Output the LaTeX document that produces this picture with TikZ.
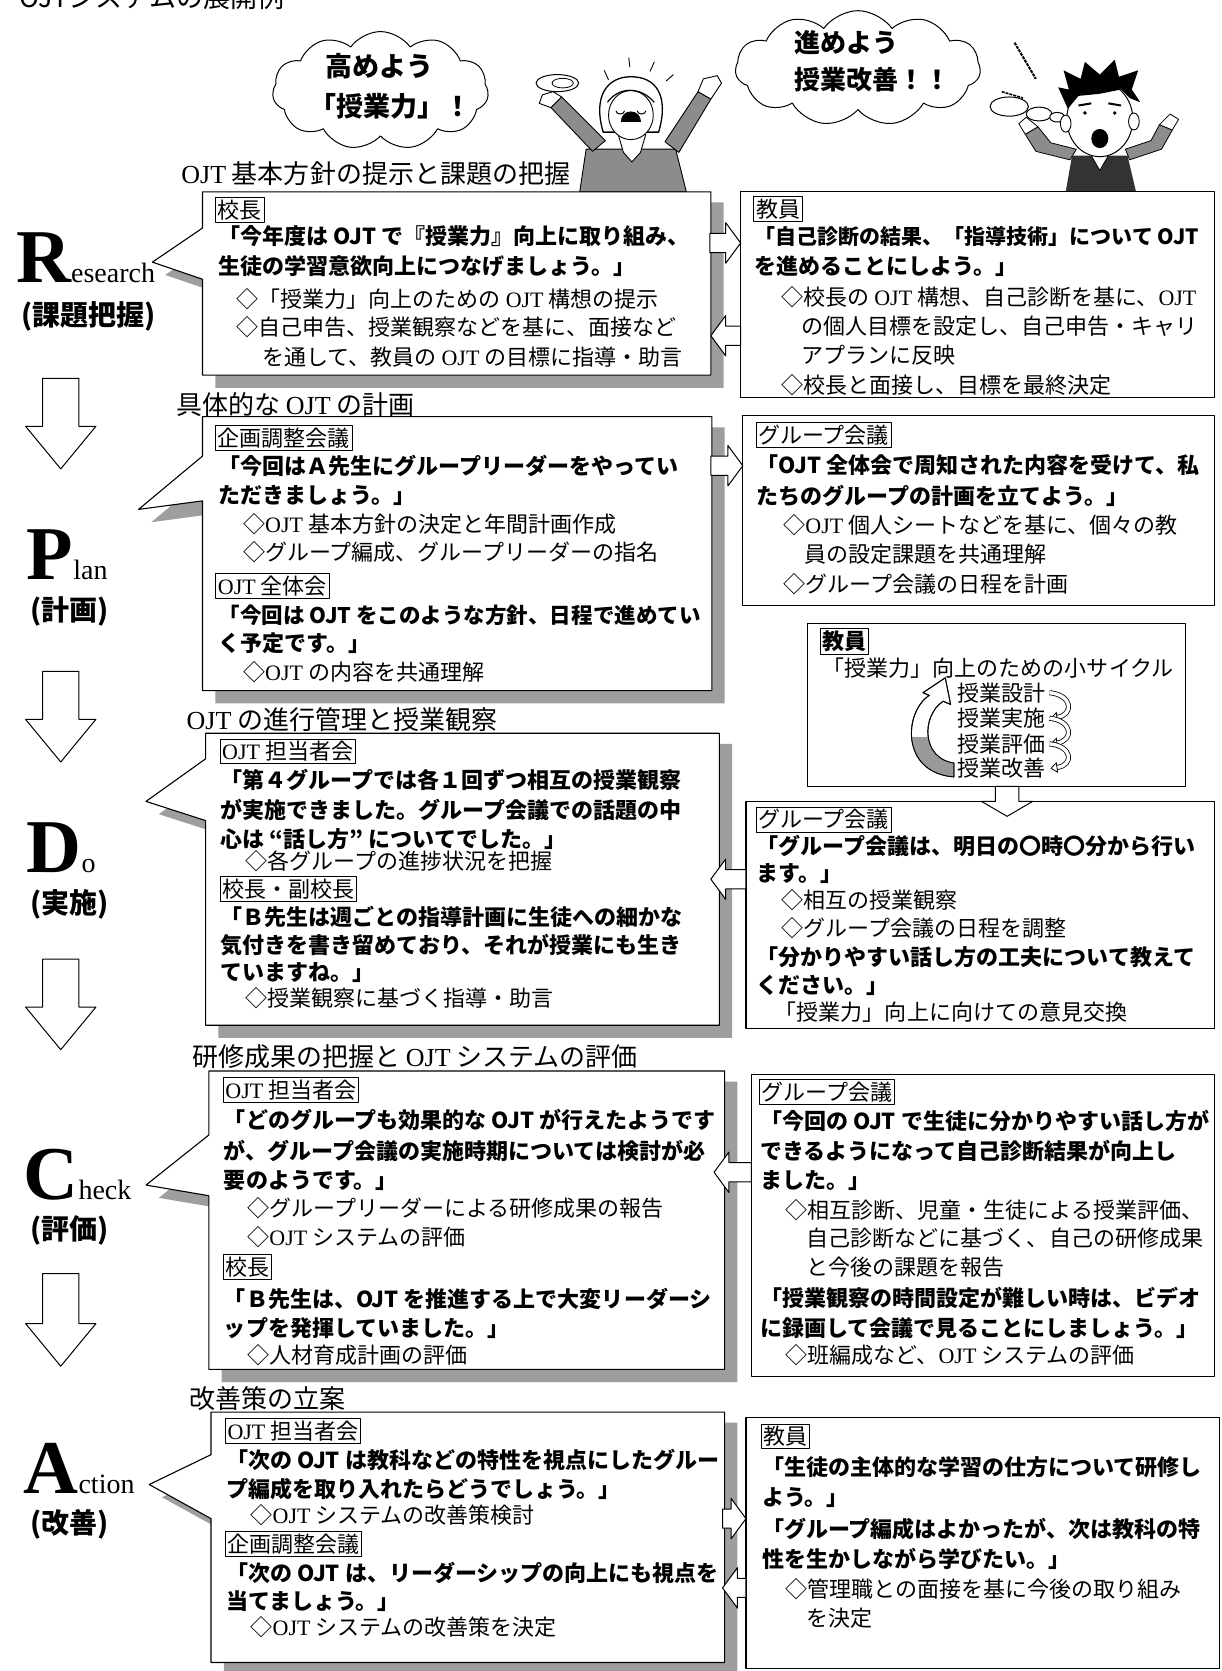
\documentclass[tikz,border=0pt]{standalone}
\usepackage{fontspec}
\setmainfont{Noto Sans CJK JP}
\newfontfamily\latinserif{Liberation Serif}
\usetikzlibrary{shapes.symbols,arrows.meta}
\newcommand\OJTr{{\latinserif OJT}}
% callout box with a shadow and a pointer on its left side
% #1 x1, #2 y1, #3 x2, #4 y2, #5 top of opening, #6 bottom of opening, #7 tip x, #8 tip y
\newcommand\callbox[8]{%
  \fill[boxshadow] ({#1+12},{#2+10}) -- ({#3+12},{#2+10}) -- ({#3+12},{#4+12}) -- ({#1+12},{#4+12}) -- ({#1+12},{#6+12}) -- ({#7+12},{#8+12}) -- ({#1+12},{#5+12}) -- cycle;
  \draw[boxline, fill=white] (#1,#2) -- (#3,#2) -- (#3,#4) -- (#1,#4) -- (#1,#6) -- (#7,#8) -- (#1,#5) -- cycle;}
% horizontal block arrow: tail x, tip x, centre y, half shaft, half head, signed head length
\newcommand\harr[6]{\draw[blk] (#1,{#3-#4}) -- ({#2-(#6)},{#3-#4}) -- ({#2-(#6)},{#3-#5}) -- (#2,#3) -- ({#2-(#6)},{#3+#5}) -- ({#2-(#6)},{#3+#4}) -- (#1,{#3+#4}) -- cycle;}
% vertical block arrow: centre x, tail y, tip y, half shaft, half head, head length
\newcommand\varr[6]{\draw[blk] ({#1-#4},#2) -- ({#1-#4},{#3-(#6)}) -- ({#1-#5},{#3-(#6)}) -- (#1,#3) -- ({#1+#5},{#3-(#6)}) -- ({#1+#4},{#3-(#6)}) -- ({#1+#4},#2) -- cycle;}
% big stage letter followed by the rest of the word
\newcommand\stageword[2]{{\latinserif\fontsize{76}{76}\selectfont\bfseries #1}{\latinserif\fontsize{28}{28}\selectfont #2}}
\tikzset{
  boxline/.style={draw=black, line width=1.1pt},
  boxshadow/.style={fill=black!38},
  blk/.style={draw=black, line width=1pt, fill=white},
  bt/.style={anchor=west, inner sep=0pt, font=\fontsize{22}{24}\selectfont\bfseries},
  rt/.style={anchor=west, inner sep=0pt, font=\fontsize{22}{24}\selectfont},
  lbl/.style={anchor=west, draw, line width=0.9pt, inner sep=2.2pt, font=\fontsize{22}{24}\selectfont},
  hd/.style={anchor=west, inner sep=0pt, font=\fontsize{26}{28}\selectfont},
  ct/.style={anchor=west, inner sep=0pt, font=\fontsize{27}{29}\selectfont\bfseries},
  bigl/.style={anchor=base west, inner sep=0pt, text depth=0pt},
  subl/.style={inner sep=0pt, font=\fontsize{28}{30}\selectfont\bfseries},
  thought/.style={cloud, draw, line width=1pt, cloud puffs=11, cloud puff arc=110, cloud ignores aspect, inner sep=0pt},
  wavy/.style={draw=black, line width=0.8pt, double=white, double distance=3.4pt, -{Triangle[open, length=7pt, width=11pt]}},
}
\begin{document}
\begin{tikzpicture}[x=1.0654pt, y=-1.0654pt, line join=round]
\useasboundingbox (0,0) rectangle (1146,1568);
\fill[white] (0,0) rectangle (1146,1568);

% title line at the top edge
\node[anchor=base west, inner sep=0pt, font=\fontsize{27}{27}\selectfont] (ttl) at (18,7) {OJTシステムの展開例};

% ---------------- thought clouds ----------------
\node[thought, minimum width=216pt, minimum height=118pt] (cloudA) at (357,85) {};
\node[ct] (ca1) at (305,62) {高めよう};
\node[ct] (ca2) at (290,100) {「授業力」！};
\draw[line width=1pt, fill=white] (523,78) ellipse (20 and 8);
\draw[line width=0.8pt] (528,78) ellipse (10 and 4.5);

\node[thought, minimum width=245pt, minimum height=115pt] (cloudB) at (805,64) {};
\node[ct, font=\fontsize{26}{28}\selectfont\bfseries] (cb1) at (745,40) {進めよう};
\node[ct, font=\fontsize{26}{28}\selectfont\bfseries] (cb2) at (745,75) {授業改善！！};
\draw[line width=1pt, fill=white] (947,100) ellipse (18 and 9);
\draw[line width=1pt, fill=white] (975,107) ellipse (12 and 6.5);
\draw[line width=1pt, fill=white] (992,110) ellipse (7 and 4.5);
\draw[line width=2pt, dash pattern=on 3pt off 1pt] (952,40) -- (972,74);
\draw[line width=1.6pt, dash pattern=on 3pt off 1pt] (940,86) -- (960,92);

% ---------------- woman ----------------
\draw[line width=0.9pt, fill=black!45] (550,140) -- (634,140) -- (644,180) -- (544,180) -- cycle;
\draw[line width=0.9pt, fill=black!45] (556,142) -- (517,101) -- (527,91) -- (568,132) -- cycle;
\draw[line width=0.9pt, fill=white] (517,101) -- (506,97) -- (509,89) -- (519,86) -- (527,91) -- cycle;
\draw[line width=0.9pt, fill=black!45] (624,133) -- (655,86) -- (667,93) -- (637,143) -- cycle;
\draw[line width=0.9pt, fill=white] (655,86) -- (660,74) -- (673,71) -- (677,78) -- (667,93) -- cycle;
\draw[line width=0.9pt, fill=white] (580,126) -- (606,126) -- (601,143) -- (593,152) -- (585,143) -- cycle;
\draw[line width=1.3pt, fill=white] (566,124) .. controls (556,90) and (570,72) .. (592,72) .. controls (616,72) and (628,90) .. (618,124) -- cycle;
\draw[line width=0.9pt, fill=white] (592,108) ellipse (21 and 23);
\draw[line width=1.2pt] (570,96) .. controls (580,82) and (600,80) .. (614,96);
\draw[line width=1pt] (578,104) arc (180:0:4 and 3);
\draw[line width=1pt] (598,104) arc (180:0:4 and 3);
\draw[line width=0.9pt, fill=black] (583,114) arc (180:360:9 and 9) -- cycle;
\draw[line width=0.9pt] (567,66) -- (571,75);
\draw[line width=0.9pt] (590,54) -- (591,63);
\draw[line width=0.9pt] (614,58) -- (610,67);
\draw[line width=0.9pt] (632,70) -- (625,76);

% ---------------- man ----------------
\draw[line width=0.8pt, fill=black!45] (1004,150) -- (972,142) -- (962,126) -- (974,119) -- (986,134) -- (1010,140) -- cycle;
\draw[line width=0.8pt, fill=white] (962,126) -- (956,116) -- (963,110) -- (974,119) -- cycle;
\draw[line width=0.8pt, fill=black!45] (1060,150) -- (1090,140) -- (1100,122) -- (1088,117) -- (1080,132) -- (1056,140) -- cycle;
\draw[line width=0.8pt, fill=white] (1100,122) -- (1106,112) -- (1098,107) -- (1088,117) -- cycle;
\fill[black!80] (1006,146) -- (1058,146) -- (1066,180) -- (1000,180) -- cycle;
\draw[line width=0.8pt, fill=white] (1024,146) -- (1040,146) -- (1032,160) -- cycle;
\draw[line width=1pt, fill=white] (1032,112) ellipse (31 and 35);
\draw[line width=0.9pt, fill=white] (1000,116) ellipse (5 and 8);
\draw[line width=0.9pt, fill=white] (1064,114) ellipse (5 and 8);
\fill[black] (1002,102) -- (993,82) -- (1003,84) -- (998,66) -- (1014,74) -- (1018,58) -- (1032,70) -- (1046,56) -- (1050,72) -- (1068,66) -- (1062,84) -- (1070,96) -- (1060,92) -- (1052,84) -- (1032,88) -- (1012,90) -- cycle;
\draw[line width=2pt] (1012,99) -- (1024,97);
\draw[line width=2pt] (1040,97) -- (1052,99);
\fill (1018,106) circle (1.8);
\fill (1046,106) circle (1.8);
\fill (1032,130) ellipse (8 and 9);

% ---------------- left column: stage labels ----------------
\node[bigl] (lbR) at (15,265) {\stageword{R}{esearch}};
\node[subl] (lbRj) at (83,297) {(課題把握)};
\node[bigl] (lbP) at (25,544) {\stageword{P}{lan}};
\node[subl] (lbPj) at (65,574) {(計画)};
\node[bigl] (lbD) at (25,819) {\stageword{D}{o}};
\node[subl] (lbDj) at (65,849) {(実施)};
\node[bigl] (lbC) at (22,1126) {\stageword{C}{heck}};
\node[subl] (lbCj) at (65,1155) {(評価)};
\node[bigl] (lbA) at (22,1401) {\stageword{A}{ction}};
\node[subl] (lbAj) at (65,1430) {(改善)};

\varr{57}{355}{440}{17}{33}{40}
\varr{57}{630}{715}{17}{33}{40}
\varr{57}{900}{985}{17}{33}{40}
\varr{57}{1195}{1282}{17}{33}{40}

% ---------------- Research ----------------
\node[hd] (h1) at (170,163) {\OJTr{} 基本方針の提示と課題の把握};
\callbox{190}{180}{667}{352}{214}{262}{143}{246}
\draw[boxline, fill=white] (695,180) rectangle (1140,373);
\harr{666}{695}{228}{9}{19}{14}
\harr{695}{667}{315}{9}{19}{-14}
\node[lbl] (lr0) at (202,197) {校長};
\node[bt] (lr1) at (205,222) {「今年度は OJT で『授業力』向上に取り組み、};
\node[bt] (lr2) at (205,250) {生徒の学習意欲向上につなげましょう。」};
\node[rt] (lr3) at (222,281) {◇「授業力」向上のための \OJTr{} 構想の提示};
\node[rt] (lr4) at (222,307) {◇自己申告、授業観察などを基に、面接など};
\node[rt] (lr5) at (246,335) {を通して、教員の \OJTr{} の目標に指導・助言};
\node[lbl] (rr0) at (707,196) {教員};
\node[bt, font=\fontsize{21}{24}\selectfont\bfseries] (rr1) at (708,222) {「自己診断の結果、「指導技術」について OJT};
\node[bt] (rr2) at (708,250) {を進めることにしよう。」};
\node[rt] (rr3) at (733,279) {◇校長の \OJTr{} 構想、自己診断を基に、\OJTr};
\node[rt] (rr4) at (752,306) {の個人目標を設定し、自己申告・キャリ};
\node[rt] (rr5) at (752,333) {アプランに反映};
\node[rt] (rr6) at (733,361) {◇校長と面接し、目標を最終決定};

% ---------------- Plan ----------------
\node[hd] (h2) at (165,380) {具体的な \OJTr{} の計画};
\callbox{190}{391}{668}{648}{428}{470}{130}{478}
\draw[boxline, fill=white] (697,390) rectangle (1140,568);
\harr{667}{697}{437}{9}{19}{14}
\node[lbl] (lp0) at (202,411) {企画調整会議};
\node[bt] (lp1) at (205,437) {「今回はＡ先生にグループリーダーをやってい};
\node[bt] (lp2) at (205,465) {ただきましょう。」};
\node[rt] (lp3) at (228,492) {◇\OJTr{} 基本方針の決定と年間計画作成};
\node[rt] (lp4) at (228,518) {◇グループ編成、グループリーダーの指名};
\node[lbl] (lp5) at (202,550) {\OJTr{} 全体会};
\node[bt, font=\fontsize{21.5}{24}\selectfont\bfseries] (lp6) at (205,577) {「今回は OJT をこのような方針、日程で進めてい};
\node[bt] (lp7) at (205,604) {く予定です。」};
\node[rt] (lp8) at (228,631) {◇\OJTr{} の内容を共通理解};
\node[lbl] (rp0) at (709,408) {グループ会議};
\node[bt] (rp1) at (710,436) {「OJT 全体会で周知された内容を受けて、私};
\node[bt] (rp2) at (710,465) {たちのグループの計画を立てよう。」};
\node[rt] (rp3) at (735,493) {◇\OJTr{} 個人シートなどを基に、個々の教};
\node[rt] (rp4) at (755,520) {員の設定課題を共通理解};
\node[rt] (rp5) at (735,548) {◇グループ会議の日程を計画};

% small improvement cycle
\draw[boxline, fill=white] (758,585) rectangle (1112,738);
\node[lbl, font=\fontsize{22}{24}\selectfont\bfseries] (cy0) at (769,602) {教員};
\node[rt] (cy1) at (772,627) {「授業力」向上のための小サイクル};
\node[rt] (it1) at (898,650) {授業設計};
\node[rt] (it2) at (898,674) {授業実施};
\node[rt] (it3) at (898,698) {授業評価};
\node[rt] (it4) at (898,721) {授業改善};
\draw[wavy] ([xshift=4pt]it1.east) .. controls +(22,2) and +(22,-3) .. ([xshift=5pt]it2.east);
\draw[wavy] ([xshift=4pt]it2.east) .. controls +(22,2) and +(22,-3) .. ([xshift=5pt]it3.east);
\draw[wavy] ([xshift=4pt]it3.east) .. controls +(22,2) and +(22,-3) .. ([xshift=5pt]it4.east);
\draw[line width=0.9pt, fill=white] (895,729) .. controls (845,725) and (848,668) .. (872,652.5) -- (866,650) -- (887,636) -- (892,661) -- (885,658) .. controls (864,672) and (865,712) .. (895,716) -- cycle;
\begin{scope}
  \clip (830,692) rectangle (900,740);
  \fill[black!40] (895,729) .. controls (845,725) and (848,668) .. (872,652.5) -- (866,650) -- (887,636) -- (892,661) -- (885,658) .. controls (864,672) and (865,712) .. (895,716) -- cycle;
\end{scope}
\draw[line width=0.9pt] (895,729) .. controls (845,725) and (848,668) .. (872,652.5) -- (866,650) -- (887,636) -- (892,661) -- (885,658) .. controls (864,672) and (865,712) .. (895,716) -- cycle;

% ---------------- Do ----------------
\node[hd] (h3) at (175,675) {\OJTr{} の進行管理と授業観察};
\callbox{193}{688}{675}{962}{712}{770}{137}{752}
\draw[boxline, fill=white] (700,752) rectangle (1140,965);
\varr{945}{738}{766}{11}{24}{14}
\harr{700}{667}{825}{9}{19}{-14}
\node[lbl] (ld0) at (206,705) {\OJTr{} 担当者会};
\node[bt] (ld1) at (207,732) {「第４グループでは各１回ずつ相互の授業観察};
\node[bt] (ld2) at (207,760) {が実施できました。グループ会議での話題の中};
\node[bt] (ld3) at (207,787) {心は “話し方” についてでした。」};
\node[rt] (ld4) at (230,808) {◇各グループの進捗状況を把握};
\node[lbl] (ld5) at (206,834) {校長・副校長};
\node[bt] (ld6) at (207,860) {「Ｂ先生は週ごとの指導計画に生徒への細かな};
\node[bt] (ld7) at (207,887) {気付きを書き留めており、それが授業にも生き};
\node[bt] (ld8) at (207,913) {ていますね。」};
\node[rt] (ld9) at (230,937) {◇授業観察に基づく指導・助言};
\node[lbl] (rd0) at (709,769) {グループ会議};
\node[bt] (rd1) at (710,794) {「グループ会議は、明日の〇時〇分から行い};
\node[bt] (rd2) at (710,820) {ます。」};
\node[rt] (rd3) at (733,845) {◇相互の授業観察};
\node[rt] (rd4) at (733,871) {◇グループ会議の日程を調整};
\node[bt] (rd5) at (710,898) {「分かりやすい話し方の工夫について教えて};
\node[bt] (rd6) at (710,925) {ください。」};
\node[rt] (rd7) at (727,950) {「授業力」向上に向けての意見交換};

% ---------------- Check ----------------
\node[hd] (h4) at (180,992) {研修成果の把握と \OJTr{} システムの評価};
\callbox{196}{1005}{680}{1285}{1065}{1122}{137}{1112}
\draw[boxline, fill=white] (705,1008) rectangle (1140,1292);
\harr{705}{670}{1100}{9}{19}{-14}
\node[lbl] (lc0) at (209,1023) {\OJTr{} 担当者会};
\node[bt] (lc1) at (210,1051) {「どのグループも効果的な OJT が行えたようです};
\node[bt] (lc2) at (210,1080) {が、グループ会議の実施時期については検討が必};
\node[bt] (lc3) at (210,1108) {要のようです。」};
\node[rt] (lc4) at (232,1134) {◇グループリーダーによる研修成果の報告};
\node[rt] (lc5) at (232,1161) {◇\OJTr{} システムの評価};
\node[lbl] (lc6) at (209,1189) {校長};
\node[bt] (lc7) at (210,1219) {「Ｂ先生は、OJT を推進する上で大変リーダーシ};
\node[bt] (lc8) at (210,1246) {ップを発揮していました。」};
\node[rt] (lc9) at (232,1272) {◇人材育成計画の評価};
\node[lbl] (rc0) at (712,1025) {グループ会議};
\node[bt] (rc1) at (713,1052) {「今回の OJT で生徒に分かりやすい話し方が};
\node[bt] (rc2) at (713,1080) {できるようになって自己診断結果が向上し};
\node[bt] (rc3) at (713,1108) {ました。」};
\node[rt] (rc4) at (737,1136) {◇相互診断、児童・生徒による授業評価、};
\node[rt] (rc5) at (757,1162) {自己診断などに基づく、自己の研修成果};
\node[rt] (rc6) at (757,1189) {と今後の課題を報告};
\node[bt] (rc7) at (713,1218) {「授業観察の時間設定が難しい時は、ビデオ};
\node[bt] (rc8) at (713,1246) {に録画して会議で見ることにしましょう。」};
\node[rt] (rc9) at (737,1272) {◇班編成など、\OJTr{} システムの評価};

% ---------------- Action ----------------
\node[hd] (h5) at (178,1312) {改善策の立案};
\callbox{198}{1325}{680}{1560}{1365}{1425}{140}{1393}
\draw[boxline, fill=white] (700,1330) rectangle (1144,1566);
\harr{678}{700}{1425}{9}{19}{14}
\harr{700}{678}{1490}{9}{19}{-14}
\node[lbl] (la0) at (211,1343) {\OJTr{} 担当者会};
\node[bt] (la1) at (212,1370) {「次の OJT は教科などの特性を視点にしたグルー};
\node[bt] (la2) at (212,1397) {プ編成を取り入れたらどうでしょう。」};
\node[rt] (la3) at (235,1422) {◇\OJTr{} システムの改善策検討};
\node[lbl] (la4) at (211,1449) {企画調整会議};
\node[bt] (la5) at (212,1476) {「次の OJT は、リーダーシップの向上にも視点を};
\node[bt] (la6) at (212,1502) {当てましょう。」};
\node[rt] (la7) at (235,1527) {◇\OJTr{} システムの改善策を決定};
\node[lbl] (ra0) at (714,1348) {教員};
\node[bt] (ra1) at (715,1377) {「生徒の主体的な学習の仕方について研修し};
\node[bt] (ra2) at (715,1405) {よう。」};
\node[bt] (ra3) at (715,1435) {「グループ編成はよかったが、次は教科の特};
\node[bt] (ra4) at (715,1463) {性を生かしながら学びたい。」};
\node[rt] (ra5) at (737,1491) {◇管理職との面接を基に今後の取り組み};
\node[rt] (ra6) at (757,1518) {を決定};
\end{tikzpicture}
\end{document}
